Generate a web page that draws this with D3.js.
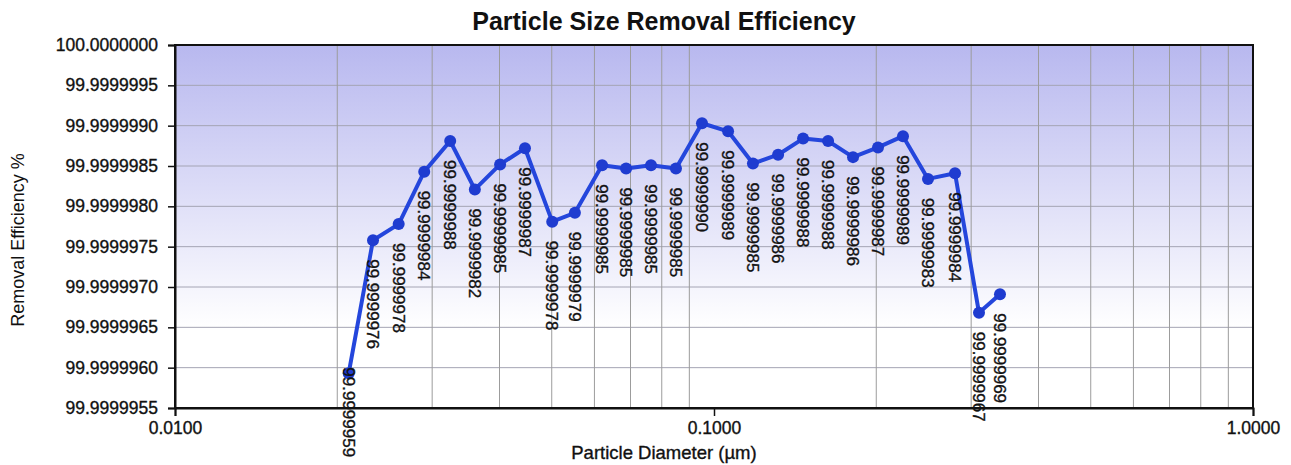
<!DOCTYPE html>
<html>
<head>
<meta charset="utf-8">
<script src="https://cdn.jsdelivr.net/npm/d3@7"></script>
<style>
body { margin: 0; background: #fff; }
text { font-family: "Liberation Sans", Arial, sans-serif; fill: #111; }
.heavy { stroke: #111; stroke-width: 0.35px; }
</style>
</head>
<body>
<svg id="chart" width="1291" height="465"></svg>
<script>
// particle diameters (um)
const diameters = [0.0210, 0.0233, 0.0260, 0.0290, 0.0324, 0.0360, 0.0401, 0.0446, 0.0501,
    0.0552, 0.0620, 0.0687, 0.0764, 0.0850, 0.0950, 0.1062, 0.1181, 0.1315, 0.1463, 0.1628,
    0.1811, 0.2015, 0.2242, 0.2495, 0.2800, 0.3102, 0.3393];
// removal efficiency %
const efficiencies = [99.99999593, 99.99999758, 99.99999778, 99.99999843, 99.99999881, 99.99999821,
    99.99999852, 99.99999872, 99.99999781, 99.99999792, 99.99999851, 99.99999847, 99.99999851,
    99.99999847, 99.99999903, 99.99999893, 99.99999853, 99.99999864, 99.99999884, 99.99999881,
    99.99999861, 99.99999873, 99.99999887, 99.99999834, 99.99999841, 99.99999668, 99.99999691];
const yTicks = [99.9999955, 99.999996, 99.9999965, 99.999997, 99.9999975, 99.999998,
    99.9999985, 99.999999, 99.9999995, 100.0];
const xTicks = [0.01, 0.1, 1];
const chartTitle = "Particle Size Removal Efficiency";
const xTitle = "Particle Diameter (µm)";
const yTitle = "Removal Efficiency %";

const data = diameters.map((d, i) => ({ x: d, y: efficiencies[i] }));

const width = 1291, height = 465;
const margin = { top: 45, right: 38, bottom: 57, left: 175 };
const w = width - margin.left - margin.right;
const h = height - margin.top - margin.bottom;

const svg = d3.select("#chart");

// background gradient of the plot area
const grad = svg.append("defs").append("linearGradient")
    .attr("id", "bg").attr("x1", 0).attr("y1", 0).attr("x2", 0).attr("y2", 1);
grad.append("stop").attr("offset", "0%").attr("stop-color", "#b8b8ef");
grad.append("stop").attr("offset", "78%").attr("stop-color", "#ffffff");
grad.append("stop").attr("offset", "100%").attr("stop-color", "#ffffff");

const g = svg.append("g").attr("transform", `translate(${margin.left},${margin.top})`);

const xscale = d3.scaleLog().domain([0.01, 1]).range([0, w]);
const yscale = d3.scaleLinear().domain([yTicks[0], yTicks[yTicks.length - 1]]).range([h, 0]);

g.append("rect").attr("width", w).attr("height", h).attr("fill", "url(#bg)");

// horizontal grid
g.append("g").selectAll("line").data(yTicks.slice(1, -1)).join("line")
    .attr("x1", 0).attr("x2", w)
    .attr("y1", d => yscale(d)).attr("y2", d => yscale(d))
    .attr("stroke", "#a4a4b4").attr("stroke-width", 1);

// vertical minor grid (2..9 of each decade)
const minors = xscale.ticks().filter(d => !xTicks.some(t => Math.abs(t - d) < 1e-9));
g.append("g").selectAll("line").data(minors).join("line")
    .attr("x1", d => xscale(d)).attr("x2", d => xscale(d))
    .attr("y1", 0).attr("y2", h)
    .attr("stroke", "#9c9c9c").attr("stroke-width", 1);

// border
g.append("rect").attr("width", w).attr("height", h)
    .attr("fill", "none").attr("stroke", "#111").attr("stroke-width", 2);

// axes
const xaxis = d3.axisBottom(xscale).tickValues(xTicks).tickFormat(d => d.toFixed(4))
    .tickSize(8).tickPadding(6);
const g_xaxis = g.append("g").attr("transform", `translate(0,${h})`).call(xaxis);
const yaxis = d3.axisLeft(yscale).tickValues(yTicks).tickFormat(d => d.toFixed(7))
    .tickSize(7).tickPadding(10);
const g_yaxis = g.append("g").call(yaxis);

[g_xaxis, g_yaxis].forEach(a => {
    a.select(".domain").attr("stroke", "#111").attr("stroke-width", 2);
    a.selectAll(".tick line").attr("stroke", "#111").attr("stroke-width", 1.5);
    a.selectAll("text").attr("class", "heavy").style("font-size", "17.5px").attr("fill", "#111");
});

// series line + markers
const line = d3.line().x(d => xscale(d.x)).y(d => yscale(d.y));
g.append("path").datum(data)
    .attr("d", line)
    .attr("fill", "none")
    .attr("stroke", "#2446dc")
    .attr("stroke-width", 4)
    .attr("stroke-linejoin", "round");

g.selectAll("circle").data(data).join("circle")
    .attr("cx", d => xscale(d.x)).attr("cy", d => yscale(d.y))
    .attr("r", 6).attr("fill", "#1f3cd0");

// data labels, rotated, below each point (first one sits over its dot)
const labelGap = (i) => i === 0 ? -6 : 19;
g.append("g").selectAll("text").data(data).join("text")
    .attr("class", "heavy")
    .attr("transform", (d, i) => `translate(${xscale(d.x)},${yscale(d.y) + labelGap(i)}) rotate(90)`)
    .attr("dy", "0.35em")
    .attr("text-anchor", "start")
    .style("font-size", "17px")
    .text(d => d.y.toFixed(7));

// titles
svg.append("text").attr("x", 664).attr("y", 30).attr("text-anchor", "middle")
    .style("font-size", "25px").style("font-weight", "bold").text(chartTitle);
svg.append("text").attr("class", "heavy").attr("x", 664).attr("y", 459).attr("text-anchor", "middle")
    .style("font-size", "18.5px").text(xTitle);
svg.append("text").attr("transform", "translate(24,240) rotate(-90)").attr("text-anchor", "middle")
    .style("font-size", "18px").text(yTitle);
</script>
</body>
</html>
